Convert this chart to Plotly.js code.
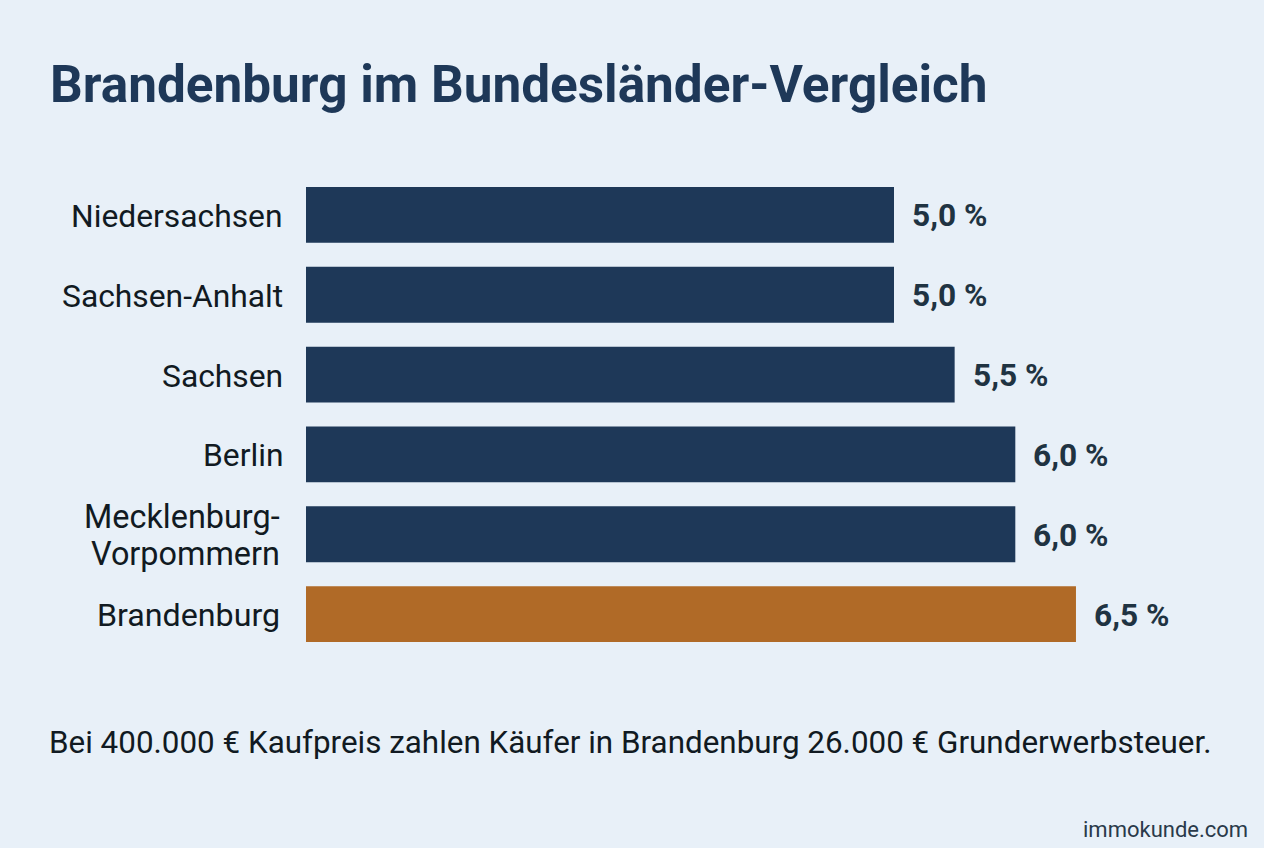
<!DOCTYPE html>
<html><head><meta charset="utf-8">
<script src="https://cdn.plot.ly/plotly-3.0.1.min.js"></script>
<style>html,body{margin:0;padding:0;background:#e8f0f8}</style></head>
<body><div id="chart" style="width:1264px;height:848px"></div>
<script>
const categories = ["Niedersachsen","Sachsen-Anhalt","Sachsen","Berlin","Mecklenburg-Vorpommern","Brandenburg"];
const categoryLines = [["Niedersachsen"],["Sachsen-Anhalt"],["Sachsen"],["Berlin"],["Mecklenburg-","Vorpommern"],["Brandenburg"]];
const values = [5.0,5.0,5.5,6.0,6.0,6.5];
const valueLabels = ["5,0 %","5,0 %","5,5 %","6,0 %","6,0 %","6,5 %"];
const barColors = ["#1e3858","#1e3858","#1e3858","#1e3858","#1e3858","#b06a27"];
const labelRightGap = [21,21,21,21,24,24];
const titleText = "Brandenburg im Bundesländer-Vergleich";
const noteText = "Bei 400.000 € Kaufpreis zahlen Käufer in Brandenburg 26.000 € Grunderwerbsteuer.";
const sourceText = "immokunde.com";
const font = "Roboto, Inter, sans-serif";
const W = 1264, H = 848, left = 306;
const valueAnn = values.map((v,i)=>({
  x:v,y:categories[i],xref:"x",yref:"y",text:valueLabels[i],showarrow:false,
  xanchor:"left",yanchor:"middle",xshift:16,yshift:-1,
  font:{family:font,size:31.7,color:"#1f3342",weight:700}
}));
const catAnn = categoryLines.flatMap((lines,i)=>lines.map((line,j)=>({
  x:0,xref:"paper",y:categories[i],yref:"y",text:line,showarrow:false,
  xanchor:"right",yanchor:"middle",xshift:-labelRightGap[i],
  yshift:(lines.length>1 ? ((lines.length-1)/2-j)*37 : 0)-1,
  font:{family:font,size:lines.length>1?32.4:(i===5?32.2:31.8),color:"#111a22"}
})));
Plotly.newPlot("chart",[{
  type:"bar",orientation:"h",y:categories,x:values,
  marker:{color:barColors,line:{width:0}},width:0.7,
  cliponaxis:true,hoverinfo:"skip"
}],{
  width:W,height:H,showlegend:false,
  paper_bgcolor:"#e8f0f8",plot_bgcolor:"rgba(0,0,0,0)",
  margin:{l:left,r:0,t:174.5,b:193.5,autoexpand:false},
  title:{text:titleText,x:50/W,xanchor:"left",y:1-84/H,yanchor:"middle",font:{family:font,size:51.3,color:"#1e3858",weight:700}},
  xaxis:{range:[0.153,8.05],visible:false},
  yaxis:{autorange:false,range:[5.5,-0.5],automargin:false,showgrid:false,zeroline:false,showline:false,ticks:"",showticklabels:false},
  annotations:valueAnn.concat(catAnn,[
    {xref:"paper",yref:"paper",x:-(left-47)/(W-left),y:1-(743-174.5)/(H-174.5-193.5),xanchor:"left",yanchor:"middle",text:noteText,showarrow:false,font:{family:font,size:31.4,color:"#111a22"}},
    {xref:"paper",yref:"paper",x:1,y:1-(830-174.5)/(H-174.5-193.5),xanchor:"right",yanchor:"middle",xshift:-14,text:sourceText,showarrow:false,font:{family:font,size:22,color:"#2a3a4a"}}
  ])
},{staticPlot:true,displayModeBar:false});
</script></body></html>
